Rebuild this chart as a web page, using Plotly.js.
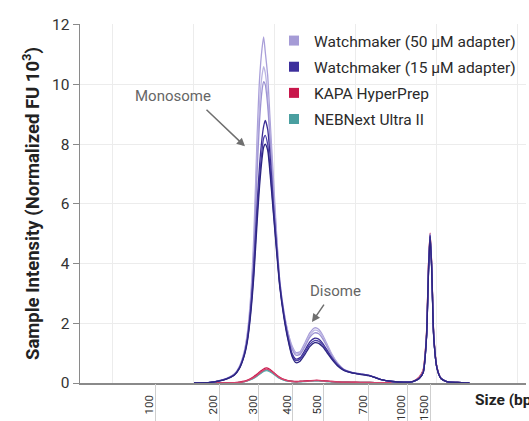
<!DOCTYPE html>
<html>
<head>
<meta charset="utf-8">
<script src="https://cdn.plot.ly/plotly-3.0.1.min.js"></script>
<style>html,body{margin:0;padding:0;background:#fff;}#chart{width:529px;height:421px;}</style>
</head>
<body>
<div id="chart"></div>
<script>
// Migration-time axis (s) of the electropherogram, and ladder calibration
const ladderTime = [45.19, 53.09, 58.02, 62.22, 65.93, 71.60, 76.30, 79.14];
const ladderBp = ["100", "200", "300", "400", "500", "700", "1000", "1500"];

const time = [50, 52, 53, 54, 55, 55.6, 56.2, 56.6, 57, 57.4, 57.8, 58.1, 58.4, 58.6, 58.8, 59.1, 59.4, 59.8, 60.2, 60.6,
  61.1, 61.6, 62.1, 62.6, 63.1, 63.7, 64.3, 64.9, 65.4, 65.9, 66.4, 67, 67.7, 68.5, 69.5, 70.5, 71.7, 73, 74.5, 76,
  77, 77.8, 78.3, 78.7, 78.95, 79.15, 79.35, 79.6, 80, 80.5, 81.2, 82.5, 84];

const wm50_a = [0, 0.02, 0.07, 0.15, 0.3, 0.55, 1.05, 1.7, 2.9, 5.0, 8.3, 10.2, 11.2, 11.6, 11.1, 10.3, 8.8, 6.9, 5.0, 3.4,
  2.4, 1.7, 1.25, 1.02, 1.05, 1.35, 1.68, 1.85, 1.8, 1.6, 1.32, 0.98, 0.68, 0.46, 0.36, 0.31, 0.25, 0.12, 0.05, 0.03,
  0.05, 0.15, 0.38, 1.55, 3.8, 5.0, 3.9, 1.6, 0.5, 0.15, 0.05, 0.02, 0];
const wm50_b = [0, 0.02, 0.07, 0.15, 0.3, 0.53, 1.0, 1.62, 2.7, 4.6, 7.6, 9.4, 10.3, 10.6, 10.4, 9.6, 8.3, 6.6, 4.9, 3.4,
  2.4, 1.7, 1.2, 0.98, 1.0, 1.28, 1.6, 1.77, 1.73, 1.55, 1.28, 0.96, 0.67, 0.46, 0.36, 0.31, 0.25, 0.12, 0.05, 0.03,
  0.05, 0.15, 0.37, 1.52, 3.75, 4.98, 3.88, 1.58, 0.5, 0.15, 0.05, 0.02, 0];
const wm50_c = [0, 0.02, 0.07, 0.15, 0.3, 0.52, 0.98, 1.58, 2.6, 4.4, 7.1, 8.8, 9.8, 10.1, 10.0, 9.3, 8.1, 6.4, 4.8, 3.4,
  2.35, 1.65, 1.15, 0.93, 0.96, 1.22, 1.53, 1.68, 1.65, 1.48, 1.23, 0.93, 0.65, 0.45, 0.35, 0.3, 0.25, 0.12, 0.05, 0.03,
  0.05, 0.15, 0.36, 1.5, 3.7, 4.95, 3.85, 1.56, 0.5, 0.15, 0.05, 0.02, 0];

const wm15_a = [0, 0.02, 0.06, 0.14, 0.28, 0.5, 0.95, 1.5, 2.5, 4.0, 6.0, 7.3, 8.2, 8.6, 8.8, 8.5, 7.6, 6.0, 4.6, 3.3,
  2.3, 1.55, 1.0, 0.8, 0.85, 1.1, 1.38, 1.5, 1.47, 1.33, 1.12, 0.86, 0.62, 0.44, 0.35, 0.3, 0.25, 0.12, 0.05, 0.03,
  0.05, 0.15, 0.35, 1.5, 3.7, 4.95, 3.85, 1.55, 0.5, 0.15, 0.05, 0.02, 0];
const wm15_b = [0, 0.02, 0.06, 0.14, 0.28, 0.5, 0.93, 1.45, 2.4, 3.8, 5.7, 6.9, 7.8, 8.2, 8.3, 8.0, 7.2, 5.8, 4.5, 3.25,
  2.25, 1.5, 0.95, 0.75, 0.8, 1.03, 1.3, 1.42, 1.4, 1.27, 1.08, 0.83, 0.6, 0.43, 0.34, 0.3, 0.25, 0.12, 0.05, 0.03,
  0.05, 0.15, 0.35, 1.48, 3.7, 4.93, 3.82, 1.54, 0.5, 0.15, 0.05, 0.02, 0];
const wm15_c = [0, 0.02, 0.06, 0.13, 0.27, 0.48, 0.9, 1.4, 2.3, 3.6, 5.4, 6.6, 7.5, 7.9, 8.0, 7.8, 7.0, 5.7, 4.4, 3.2,
  2.2, 1.45, 0.9, 0.68, 0.73, 0.96, 1.22, 1.35, 1.33, 1.21, 1.03, 0.8, 0.58, 0.42, 0.34, 0.29, 0.24, 0.12, 0.05, 0.03,
  0.05, 0.15, 0.35, 1.48, 3.65, 4.9, 3.8, 1.52, 0.5, 0.15, 0.05, 0.02, 0];

const kapa_a = [0, 0, 0, 0, 0.01, 0.03, 0.06, 0.1, 0.15, 0.22, 0.3, 0.37, 0.43, 0.47, 0.5, 0.5, 0.45, 0.36, 0.27, 0.19,
  0.12, 0.08, 0.06, 0.05, 0.06, 0.07, 0.08, 0.09, 0.09, 0.08, 0.07, 0.05, 0.04, 0.03, 0.03, 0.02, 0.02, 0.01, 0.01, 0.02,
  0.05, 0.18, 0.42, 1.6, 3.9, 5.02, 3.95, 1.62, 0.52, 0.15, 0.05, 0.02, 0];
const kapa_b = [0, 0, 0, 0, 0.01, 0.02, 0.05, 0.08, 0.13, 0.19, 0.26, 0.33, 0.39, 0.43, 0.46, 0.46, 0.42, 0.34, 0.25, 0.17,
  0.11, 0.07, 0.05, 0.04, 0.05, 0.06, 0.07, 0.08, 0.08, 0.07, 0.06, 0.05, 0.04, 0.03, 0.03, 0.02, 0.02, 0.01, 0.01, 0.02,
  0.05, 0.2, 0.45, 1.62, 3.92, 5.0, 3.93, 1.6, 0.52, 0.15, 0.05, 0.02, 0];
const neb_a = [0, 0, 0, 0, 0.01, 0.02, 0.05, 0.08, 0.12, 0.18, 0.25, 0.31, 0.37, 0.41, 0.43, 0.43, 0.39, 0.32, 0.24, 0.16,
  0.1, 0.07, 0.05, 0.04, 0.05, 0.06, 0.07, 0.07, 0.07, 0.06, 0.05, 0.04, 0.03, 0.03, 0.02, 0.02, 0.02, 0.01, 0.01, 0.02,
  0.05, 0.17, 0.4, 1.55, 3.85, 4.98, 3.9, 1.58, 0.5, 0.15, 0.05, 0.02, 0];
const neb_b = [0, 0, 0, 0, 0.01, 0.02, 0.04, 0.07, 0.11, 0.16, 0.23, 0.29, 0.35, 0.39, 0.41, 0.41, 0.37, 0.3, 0.22, 0.15,
  0.1, 0.06, 0.05, 0.04, 0.04, 0.05, 0.06, 0.07, 0.07, 0.06, 0.05, 0.04, 0.03, 0.03, 0.02, 0.02, 0.02, 0.01, 0.01, 0.02,
  0.05, 0.17, 0.4, 1.55, 3.85, 4.96, 3.88, 1.57, 0.5, 0.15, 0.05, 0.02, 0];

const seriesNames = ["Watchmaker (50 µM adapter)", "Watchmaker (15 µM adapter)", "KAPA HyperPrep", "NEBNext Ultra II"];
const seriesColors = ["#a59bd6", "#3d2f9c", "#c8174b", "#4a9fa0"];

const FONT = "Roboto, 'Liberation Sans', sans-serif";

function line(y, color, group) {
  return {x: time, y: y, type: "scatter", mode: "lines", line: {color: color, width: 1.3, shape: "spline", smoothing: 0.6},
    legendgroup: group, showlegend: false, hoverinfo: "skip"};
}

const traces = [
  line(neb_a, "#4a9fa0", "neb"), line(neb_b, "#5aaeae", "neb"),
  line(kapa_a, "#c8174b", "kapa"), line(kapa_b, "#d6456e", "kapa"),
  line(wm50_a, "#a99fd9", "wm50"), line(wm50_b, "#bdb6e3", "wm50"), line(wm50_c, "#9d93d3", "wm50"),
  line(wm15_a, "#3b2d94", "wm15"), line(wm15_b, "#4c3fa8", "wm15"), line(wm15_c, "#2c2580", "wm15"),
];
const groups = ["wm50", "wm15", "kapa", "neb"];
seriesNames.forEach((n, i) => {
  traces.push({x: [null], y: [null], type: "scatter", mode: "markers", name: n, legendgroup: groups[i],
    marker: {symbol: "square", size: 10, color: seriesColors[i]}, showlegend: true});
});
// helper traces so the overlay axes (tick lines, grid) are drawn
traces.push({x: [null], y: [null], xaxis: "x2", type: "scatter", mode: "lines", showlegend: false, hoverinfo: "skip"});
traces.push({x: [null], y: [null], xaxis: "x3", type: "scatter", mode: "lines", showlegend: false, hoverinfo: "skip"});

const xr = [35.93, 90.99];
const layout = {
  width: 529, height: 421,
  margin: {l: 80, r: 3, t: 24, b: 38, autoexpand: false},
  paper_bgcolor: "#fff", plot_bgcolor: "#fff",
  font: {family: FONT, color: "#333"},
  showlegend: true,
  legend: {x: 0.435, y: 1.0, xanchor: "left", yanchor: "top", bgcolor: "rgba(0,0,0,0)",
    font: {family: FONT, size: 15.5, color: "#2a2a2a"}, traceorder: "grouped", tracegroupgap: 3, itemwidth: 30},
  xaxis: {range: xr, tickvals: ladderTime, ticktext: ladderBp, tickangle: -90, ticks: "", showgrid: false,
    zeroline: false, showline: true, linecolor: "#8a8a8a", linewidth: 1.5, ticklabelshift: -6, ticklabelstandoff: 6,
    tickfont: {family: FONT, size: 11.5, color: "#333"}},
  xaxis2: {range: xr, overlaying: "x", anchor: "y", side: "bottom", tickvals: ladderTime, ticks: "outside", ticklen: 40,
    tickcolor: "#cfcfcf", tickwidth: 1, showticklabels: false, showgrid: false, zeroline: false, showline: false},
  xaxis3: {range: xr, overlaying: "x", anchor: "y", side: "bottom", tick0: 40, dtick: 10, ticks: "", showticklabels: false,
    showgrid: true, gridcolor: "#ececec", gridwidth: 1, zeroline: false, showline: false, layer: "below traces"},
  yaxis: {range: [0, 12.03], dtick: 2, ticks: "outside", ticklen: 6, tickcolor: "#8a8a8a", showline: true,
    linecolor: "#8a8a8a", linewidth: 1.5, showgrid: true, gridcolor: "#ececec", zeroline: false,
    tickfont: {family: FONT, size: 15.5, color: "#333"},
    title: {text: "Sample Intensity (Normalized FU 10<sup>3</sup>)", standoff: 7,
      font: {family: FONT, size: 18.5, color: "#222", weight: "bold"}}},
  annotations: [
    {xref: "paper", yref: "paper", x: 0.881, y: -0.047, xanchor: "left", yanchor: "middle", showarrow: false,
      text: "<b>Size (bp)</b>", font: {family: FONT, size: 15.5, color: "#222"}},
    {x: 47.41, y: 9.63, text: "Monosome", showarrow: false, font: {family: FONT, size: 15, color: "#666"}},
    {x: 56.30, y: 7.93, text: "", showarrow: true, ax: -40, ay: -38, arrowhead: 2, arrowsize: 1.1, arrowwidth: 1.5,
      arrowcolor: "#6f6f6f"},
    {x: 67.41, y: 3.08, text: "Disome", showarrow: false, font: {family: FONT, size: 15, color: "#666"}},
    {x: 64.57, y: 2.04, text: "", showarrow: true, ax: 13, ay: -19, arrowhead: 2, arrowsize: 1.1, arrowwidth: 1.5,
      arrowcolor: "#6f6f6f"}
  ]
};
Plotly.newPlot("chart", traces, layout, {displayModeBar: false, staticPlot: true});
</script>
</body>
</html>
